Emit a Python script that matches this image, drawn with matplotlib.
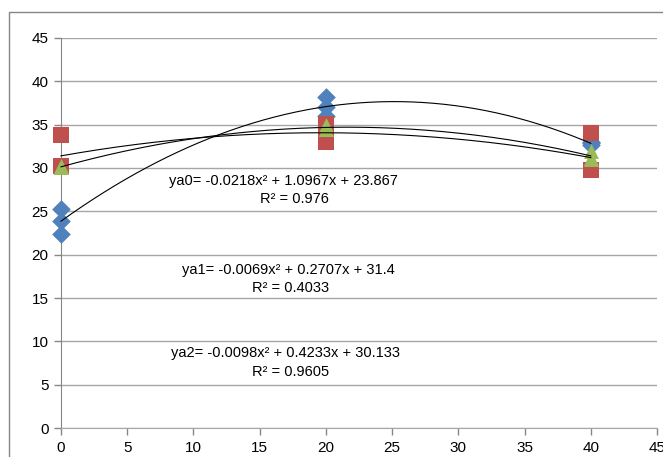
import numpy as np
import matplotlib.pyplot as plt
from matplotlib.patches import Rectangle

plt.rcParams['font.family'] = ['Liberation Sans', 'DejaVu Sans']

# # **data**

x_a0 = [0, 0, 0, 20, 20, 20, 40, 40, 40]
ya0 = [25.3, 23.9, 22.4, 38.2, 37.0, 36.05, 33.0, 32.9, 32.65]

x_a1 = [0, 0, 0, 20, 20, 20, 40, 40, 40]
ya1 = [33.8, 30.2, 30.2, 35.1, 34.1, 33.0, 34.0, 29.8, 29.8]

x_a2 = [0, 0, 0, 20, 20, 20, 40, 40, 40]
ya2 = [30.1, 30.2, 30.1, 35.0, 34.5, 34.55, 32.0, 31.2, 31.0]

eq_labels = ["ya0= -0.0218x\u00b2 + 1.0967x + 23.867",
             "ya1= -0.0069x\u00b2 + 0.2707x + 31.4",
             "ya2= -0.0098x\u00b2 + 0.4233x + 30.133"]
r2_labels = ["R\u00b2 = 0.976", "R\u00b2 = 0.4033", "R\u00b2 = 0.9605"]

x_ticks = list(range(0, 50, 5))
y_ticks = list(range(0, 50, 5))

# # **plot**

fig = plt.figure(figsize=(6.63, 4.57), dpi=100)
ax = fig.add_axes([61/663, 29/457, 596/663, 390/457])

# chart border
fig.patches.append(Rectangle((9/663, -0.1), 1.2, (457-12)/457 + 0.1,
                             transform=fig.transFigure, fill=False,
                             edgecolor='#868686', linewidth=1.0))

ax.scatter(x_a0, ya0, marker='D', s=90, color='#4F81BD', zorder=3, linewidths=0, clip_on=False)
ax.scatter(x_a1, ya1, marker='s', s=130, color='#C0504D', zorder=4, linewidths=0, clip_on=False)
ax.scatter(x_a2, ya2, marker='^', s=115, color='#9BBB59', zorder=5, linewidths=0, clip_on=False)

# polynomial trendlines (order 2)
xx = np.linspace(0, 40, 200)
for xs, ys in [(x_a0, ya0), (x_a1, ya1), (x_a2, ya2)]:
    c = np.polyfit(xs, ys, 2)
    ax.plot(xx, np.polyval(c, xx), color='black', linewidth=0.8, zorder=6, clip_on=False)

fs = 10.5
ax.text(16.77, 28.5, eq_labels[0], ha='center', va='center', fontsize=fs)
ax.text(17.6, 26.42, r2_labels[0], ha='center', va='center', fontsize=fs)
ax.text(17.2, 18.23, eq_labels[1], ha='center', va='center', fontsize=fs)
ax.text(17.3, 16.15, r2_labels[1], ha='center', va='center', fontsize=fs)
ax.text(16.95, 8.65, eq_labels[2], ha='center', va='center', fontsize=fs)
ax.text(17.37, 6.46, r2_labels[2], ha='center', va='center', fontsize=fs)

ax.set_xlim(0, 45)
ax.set_ylim(0, 45)
ax.set_xticks(x_ticks)
ax.set_yticks(y_ticks)
ax.tick_params(axis='both', direction='out', length=5, width=1,
               color='#868686', labelsize=11, pad=4)
ax.yaxis.grid(True, color='#a6a6a6', linewidth=1)
ax.set_axisbelow(True)
for s in ['top', 'right']:
    ax.spines[s].set_visible(False)
ax.spines['left'].set_color('#868686')
ax.spines['bottom'].set_color('#a6a6a6')
ax.spines['left'].set_zorder(2)

fig.savefig('out.png', dpi=100)
